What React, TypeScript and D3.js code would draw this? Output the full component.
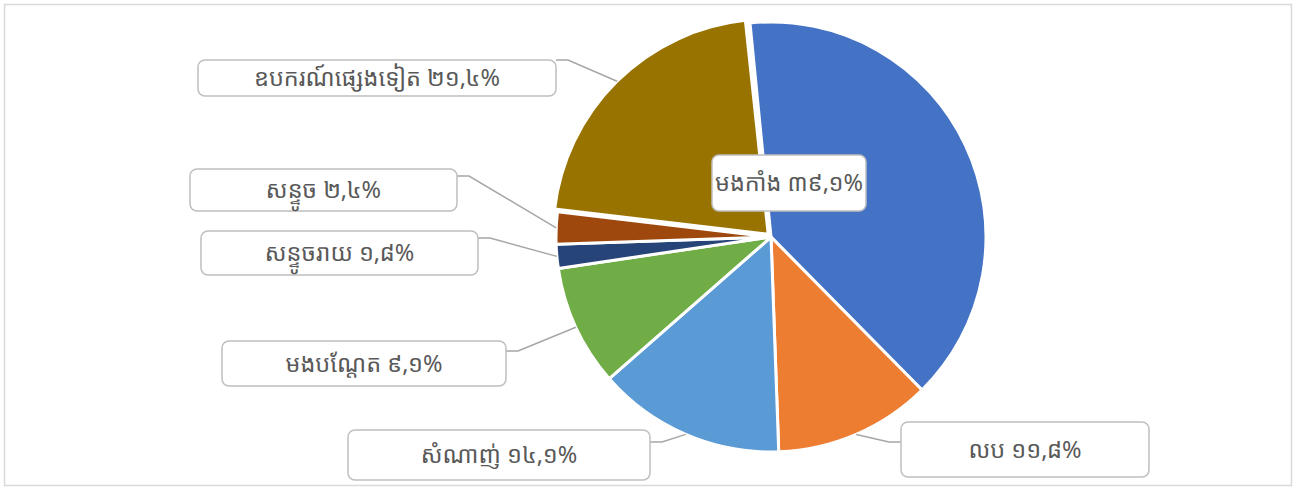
import React, { useEffect, useRef } from "react";
import * as d3 from "d3";

const categories = ["មងកាំង", "លប", "សំណាញ់", "មងបណ្តែត", "សន្ទូចរាយ", "សន្ទូច", "ឧបករណ៍ផ្សេងទៀត"];
const values = [39.1, 11.8, 14.1, 9.1, 1.8, 2.4, 21.4];
const valueLabels = ["៣៩,១%", "១១,៨%", "១៤,១%", "៩,១%", "១,៨%", "២,៤%", "២១,៤%"];
const colors = ["#4472C4", "#ED7D31", "#5B9BD5", "#70AD47", "#264478", "#9E480E", "#997300"];

// label box layout (x, y, w, h) and where the leader line joins the box
const labelBoxes = [
  { x: 712, y: 155, w: 154, h: 56, leader: null },
  { x: 901, y: 422, w: 248, h: 55, leader: 20 },
  { x: 348, y: 430, w: 302, h: 50, leader: 12 },
  { x: 222, y: 341, w: 284, h: 45, leader: 10 },
  { x: 201, y: 231, w: 277, h: 44, leader: 7 },
  { x: 190, y: 169, w: 267, h: 42, leader: 7 },
  { x: 198, y: 60, w: 358, h: 36, leader: 0 },
];

const explode = [0, 0, 0, 0, 0, 0, 4];

function renderChart(el: SVGSVGElement) {
  const width = 1304;
  const height = 488;
  const cx = 771;
  const cy = 237;
  const radius = 215;

  const svg = d3.select(el);
  svg.selectAll("*").remove();

  svg
    .append("rect")
    .attr("x", 4.5)
    .attr("y", 4.5)
    .attr("width", 1287)
    .attr("height", 481)
    .attr("fill", "white")
    .attr("stroke", "#d9d9d9")
    .attr("stroke-width", 1.5);

  const startAngle = (-5.6 * Math.PI) / 180;
  const pie = d3
    .pie<number>()
    .sort(null)
    .startAngle(startAngle)
    .endAngle(startAngle + Math.PI * 2 - (0.5 * Math.PI) / 180)
    .value((d) => d);
  const arcs = pie(values);
  const arc = d3.arc<d3.PieArcDatum<number>>().innerRadius(0).outerRadius(radius);

  const g = svg.append("g").attr("transform", "translate(" + cx + "," + cy + ")");

  g.selectAll("path")
    .data(arcs)
    .enter()
    .append("path")
    .attr("transform", (d, i) => {
      const mid = (d.startAngle + d.endAngle) / 2;
      return "translate(" + Math.sin(mid) * explode[i] + "," + -Math.cos(mid) * explode[i] + ")";
    })
    .attr("d", arc)
    .attr("fill", (d, i) => colors[i])
    .attr("stroke", "white")
    .attr("stroke-width", 3)
    .attr("stroke-linejoin", "round");

  // leader lines
  arcs.forEach((d, i) => {
    const box = labelBoxes[i];
    if (box.leader === null) return;
    const mid = (d.startAngle + d.endAngle) / 2;
    const r = radius + explode[i];
    const px = cx + Math.sin(mid) * r;
    const py = cy - Math.cos(mid) * r;
    const leftSide = box.x + box.w / 2 < cx;
    const bx = leftSide ? box.x + box.w : box.x;
    const by = box.y + box.leader;
    const ex = leftSide ? bx + 12 : bx - 12;
    svg
      .append("polyline")
      .attr("points", [bx, by, ex, by, px, py].join(","))
      .attr("fill", "none")
      .attr("stroke", "#a6a6a6")
      .attr("stroke-width", 1.5);
  });

  // label boxes
  const labels = svg
    .selectAll("g.label")
    .data(arcs)
    .enter()
    .append("g")
    .attr("class", "label");

  labels
    .append("rect")
    .attr("x", (d, i) => labelBoxes[i].x)
    .attr("y", (d, i) => labelBoxes[i].y)
    .attr("width", (d, i) => labelBoxes[i].w)
    .attr("height", (d, i) => labelBoxes[i].h)
    .attr("rx", 7)
    .attr("fill", "white")
    .attr("stroke", "#bfbfbf")
    .attr("stroke-width", 1.5);

  labels
    .append("text")
    .attr("x", (d, i) => labelBoxes[i].x + labelBoxes[i].w / 2)
    .attr("y", (d, i) => labelBoxes[i].y + labelBoxes[i].h / 2)
    .attr("dy", "0.35em")
    .attr("text-anchor", "middle")
    .attr("font-family", "'Noto Sans Khmer', 'Khmer OS', 'Noto Sans', sans-serif")
    .attr("font-size", 23.5)
    .attr("fill", "#595959")
    .text((d, i) => categories[i] + " " + valueLabels[i]);

  svg.attr("width", width).attr("height", height);
}

export default function App() {
  const ref = useRef<SVGSVGElement>(null);
  useEffect(() => {
    document.body.style.margin = "0";
    if (ref.current) renderChart(ref.current);
  }, []);
  return <svg ref={ref} width={1304} height={488} style={{ display: "block" }} />;
}
